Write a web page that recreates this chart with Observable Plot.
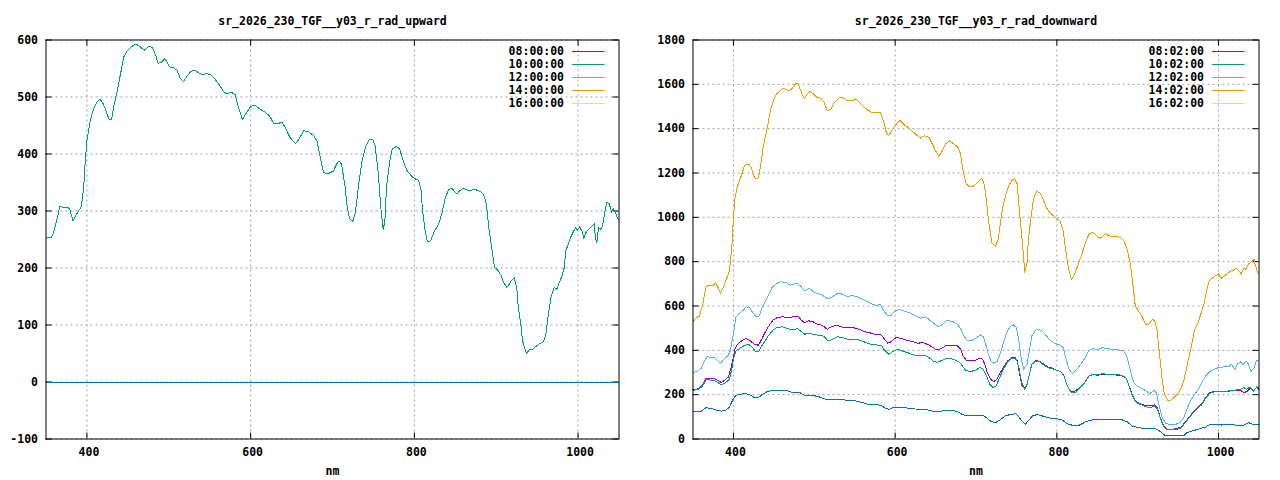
<!DOCTYPE html>
<html>
<head>
<meta charset="utf-8">
<script src="https://cdn.jsdelivr.net/npm/d3@7"></script>
<script src="https://cdn.jsdelivr.net/npm/@observablehq/plot@0.6"></script>
<style>
  html, body { margin: 0; padding: 0; background: #fff; }
  #wrap { display: flex; width: 1280px; height: 480px; }
  #wrap svg { display: block; }
</style>
</head>
<body>
<div id="wrap"></div>
<script>
// ---------- axis ticks ----------
const xTicks = [400, 600, 800, 1000];
const upYTicks = [-100, 0, 100, 200, 300, 400, 500, 600];
const downYTicks = [0, 200, 400, 600, 800, 1000, 1200, 1400, 1600, 1800];

// ---------- titles / legend labels ----------
const upTitle = "sr_2026_230_TGF__y03_r_rad_upward";
const downTitle = "sr_2026_230_TGF__y03_r_rad_downward";
const upNames = ["08:00:00", "10:00:00", "12:00:00", "14:00:00", "16:00:00"];
const downNames = ["08:02:00", "10:02:00", "12:02:00", "14:02:00", "16:02:00"];
const seriesColors = ["#9400d3", "#009e73", "#56b4e9", "#e69f00", "#f0e442"];
const extraColor = "#0072b2";

// ---------- upward panel series [nm, value] ----------
const up10 = [[350,251],[352,254],[356,253],[359,261],[363,283],[367,308],[372,306],[376,307],[379,303],[383,283],[388,296],[393,307],[396,341],[398,388],[400,423],[404,458],[408,479],[412,491],[416,496],[420,488],[424,473],[427,461],[430,460],[433,485],[437,511],[441,540],[445,570],[449,581],[454,588],[460,593],[466,587],[470,582],[476,589],[480,587],[484,573],[487,559],[491,561],[495,567],[498,561],[501,553],[506,551],[510,547],[514,533],[518,527],[522,536],[527,545],[532,547],[536,543],[541,539],[546,541],[551,539],[556,532],[562,521],[566,511],[570,506],[577,508],[581,504],[585,482],[590,460],[595,473],[600,483],[605,486],[611,479],[618,473],[623,467],[628,454],[633,453],[638,456],[642,447],[648,429],[655,418],[659,426],[665,441],[671,439],[677,432],[681,423],[685,394],[689,368],[694,365],[701,370],[705,382],[708,388],[711,382],[715,347],[718,306],[721,286],[725,282],[728,298],[732,347],[736,388],[741,415],[745,425],[749,426],[752,415],[756,365],[759,306],[762,267],[764,283],[766,342],[770,388],[773,409],[778,413],[782,409],[787,385],[791,371],[796,362],[800,357],[805,354],[808,339],[810,301],[813,266],[816,246],[820,248],[824,263],[830,278],[834,298],[838,324],[842,338],[846,340],[849,334],[852,330],[856,336],[860,340],[864,337],[868,336],[873,338],[878,336],[882,333],[885,327],[888,312],[891,271],[895,230],[898,201],[902,196],[906,187],[909,175],[913,166],[916,172],[919,179],[922,183],[925,166],[927,131],[930,102],[932,73],[935,58],[937,50],[940,56],[944,57],[948,62],[953,67],[958,71],[961,87],[964,122],[967,149],[971,166],[974,163],[977,175],[980,184],[983,200],[985,230],[988,242],[991,254],[994,263],[997,271],[999,266],[1002,272],[1005,264],[1007,251],[1009,261],[1013,268],[1018,275],[1020,278],[1021,254],[1023,245],[1025,271],[1028,268],[1030,274],[1033,301],[1035,315],[1038,313],[1041,298],[1043,304],[1046,296],[1048,288],[1050,284]];
const upExtra = [[350,0],[1050,0]];

// ---------- downward panel series [nm, value] ----------
const down08 = [[350,223],[356,226],[362,247],[366,274],[371,274],[376,272],[381,265],[385,254],[389,265],[394,280],[397,322],[400,367],[402,409],[405,427],[410,442],[416,454],[421,442],[426,427],[431,423],[435,450],[439,480],[443,506],[449,536],[454,548],[461,551],[468,548],[474,551],[481,551],[484,536],[488,524],[493,533],[498,530],[504,518],[510,513],[516,495],[521,506],[528,513],[533,506],[539,503],[547,503],[553,498],[558,491],[564,482],[568,480],[574,473],[582,473],[586,454],[591,432],[595,439],[601,458],[607,454],[613,447],[619,442],[628,432],[634,435],[640,427],[645,417],[650,405],[654,402],[660,415],[664,424],[671,424],[677,420],[681,405],[684,375],[688,355],[693,352],[699,355],[704,364],[708,360],[711,337],[714,299],[718,269],[722,259],[726,269],[730,299],[735,330],[739,352],[744,367],[748,370],[751,352],[754,292],[757,239],[760,229],[763,247],[766,292],[769,337],[774,355],[779,349],[784,337],[789,325],[795,319],[800,310],[805,304],[809,284],[813,239],[817,214],[823,217],[828,232],[834,254],[840,284],[845,292],[850,287],[856,292],[864,289],[873,289],[881,284],[886,274],[890,232],[894,194],[898,169],[903,160],[910,149],[916,149],[921,154],[924,141],[928,96],[932,59],[936,44],[943,44],[949,48],[954,54],[958,74],[963,96],[968,119],[973,138],[979,157],[984,187],[989,209],[994,214],[1000,214],[1008,214],[1016,217],[1023,220],[1027,220],[1031,209],[1035,214],[1039,229],[1043,217],[1047,232],[1050,224]];
const down10 = [[350,220],[356,223],[362,239],[366,268],[371,266],[377,262],[381,254],[385,244],[390,254],[395,269],[398,315],[400,360],[403,397],[409,412],[414,423],[419,427],[423,415],[427,397],[431,394],[435,420],[439,442],[443,465],[449,491],[454,503],[461,506],[467,498],[472,492],[479,498],[484,485],[488,473],[493,476],[499,473],[505,468],[512,464],[517,442],[523,450],[529,461],[535,458],[541,450],[547,450],[553,450],[559,442],[564,435],[570,427],[578,424],[583,423],[587,400],[592,382],[597,394],[603,405],[609,397],[615,390],[623,379],[630,375],[636,378],[642,367],[647,352],[652,345],[658,355],[664,364],[672,360],[679,348],[683,330],[687,310],[693,304],[699,310],[705,322],[709,315],[713,284],[717,247],[721,232],[725,239],[730,284],[735,322],[740,352],[745,364],[750,360],[753,322],[756,262],[760,224],[763,244],[766,292],[769,337],[774,352],[779,348],[784,334],[789,322],[796,315],[800,310],[805,304],[809,284],[813,239],[817,212],[823,209],[828,230],[834,252],[840,284],[845,292],[850,289],[856,294],[864,292],[873,292],[881,287],[886,274],[890,230],[894,190],[898,166],[903,156],[910,146],[916,141],[921,149],[924,138],[928,93],[932,55],[936,41],[943,41],[949,44],[954,51],[958,70],[963,93],[968,116],[973,135],[979,154],[984,184],[989,206],[994,212],[1000,214],[1008,216],[1016,217],[1023,222],[1027,224],[1031,232],[1035,224],[1039,235],[1043,214],[1047,235],[1050,229]];
const down12 = [[350,301],[355,304],[360,319],[364,352],[368,373],[372,367],[377,367],[381,352],[384,340],[388,360],[393,375],[396,397],[400,473],[403,548],[407,566],[412,581],[416,596],[420,593],[424,570],[428,552],[432,555],[436,596],[440,626],[444,653],[448,686],[454,703],[458,709],[465,706],[470,694],[474,698],[478,703],[483,691],[488,668],[494,680],[499,664],[504,656],[510,649],[517,631],[523,643],[529,658],[535,653],[540,644],[547,646],[553,643],[558,634],[564,623],[570,611],[576,604],[582,605],[586,578],[591,555],[595,558],[599,575],[605,585],[611,578],[617,570],[623,560],[631,545],[638,551],[644,533],[650,515],[654,506],[660,521],[664,536],[671,530],[677,518],[681,498],[685,465],[689,445],[695,445],[701,458],[706,470],[709,461],[712,427],[716,375],[719,349],[722,342],[726,349],[730,385],[734,435],[738,480],[742,506],[746,515],[750,503],[753,442],[756,360],[759,315],[763,337],[766,397],[769,465],[774,491],[778,495],[783,483],[788,461],[793,442],[798,430],[804,424],[808,412],[812,352],[815,315],[819,296],[823,307],[828,330],[834,360],[839,397],[844,408],[848,405],[852,405],[856,412],[860,409],[867,405],[873,405],[879,400],[883,397],[887,367],[891,307],[895,254],[899,239],[905,229],[910,217],[915,205],[920,220],[923,209],[926,157],[930,99],[935,69],[940,66],[947,66],[952,74],[956,89],[960,126],[964,164],[969,194],[975,224],[979,254],[984,284],[990,307],[995,315],[1000,322],[1004,322],[1008,330],[1012,325],[1016,337],[1020,315],[1024,340],[1027,349],[1030,334],[1034,352],[1037,337],[1040,304],[1044,322],[1047,355],[1050,352]];
const down14 = [[350,528],[353,545],[358,555],[362,608],[366,686],[370,694],[374,691],[378,704],[381,683],[384,658],[388,686],[392,728],[395,758],[398,864],[400,999],[402,1090],[405,1142],[409,1180],[412,1213],[414,1236],[419,1240],[422,1225],[425,1187],[428,1172],[431,1180],[434,1240],[437,1323],[442,1406],[446,1488],[450,1534],[454,1559],[457,1568],[461,1583],[465,1577],[469,1571],[473,1583],[477,1604],[480,1604],[484,1564],[488,1534],[491,1556],[495,1568],[499,1556],[503,1541],[508,1538],[512,1519],[516,1481],[521,1489],[525,1519],[531,1541],[536,1538],[541,1526],[547,1526],[551,1534],[556,1519],[561,1499],[566,1484],[572,1472],[578,1475],[582,1473],[586,1428],[589,1383],[592,1368],[597,1398],[603,1428],[606,1436],[611,1418],[617,1403],[623,1383],[631,1357],[636,1368],[642,1360],[646,1330],[650,1300],[654,1276],[658,1297],[662,1330],[667,1345],[672,1333],[678,1315],[681,1285],[684,1210],[688,1150],[692,1138],[697,1141],[701,1153],[705,1168],[707,1177],[710,1150],[713,1075],[715,999],[718,924],[720,882],[724,870],[727,894],[730,969],[733,1044],[737,1105],[741,1147],[745,1168],[748,1174],[751,1150],[753,1059],[756,939],[759,819],[760,751],[763,789],[765,909],[768,999],[771,1082],[775,1117],[779,1112],[783,1082],[787,1044],[791,1022],[796,1007],[800,995],[804,984],[808,939],[811,849],[815,759],[818,721],[821,736],[825,774],[831,834],[836,894],[840,924],[844,932],[847,927],[851,909],[854,906],[860,927],[864,917],[869,914],[875,914],[879,909],[883,894],[887,856],[891,789],[894,698],[897,600],[901,578],[906,548],[910,515],[914,518],[918,540],[921,533],[924,488],[927,382],[930,277],[933,202],[937,175],[941,175],[945,187],[949,202],[953,224],[957,262],[961,330],[966,412],[970,488],[974,518],[978,563],[982,608],[986,683],[989,716],[993,728],[998,740],[1000,746],[1003,725],[1007,736],[1011,746],[1015,758],[1018,761],[1021,770],[1025,761],[1028,743],[1031,770],[1034,766],[1037,789],[1041,800],[1044,811],[1045,792],[1048,751],[1050,746]];
const down16 = [];
const downExtra = [[350,122],[359,122],[366,141],[372,138],[378,131],[385,126],[391,131],[395,144],[399,175],[403,197],[409,202],[414,206],[420,199],[426,187],[431,187],[436,202],[442,214],[449,220],[455,221],[465,220],[471,212],[481,212],[488,197],[498,197],[506,190],[516,176],[525,179],[535,179],[541,172],[551,172],[560,164],[566,157],[578,154],[583,152],[588,138],[593,134],[599,144],[609,144],[619,137],[630,134],[640,131],[646,126],[654,123],[662,129],[671,129],[677,123],[683,111],[689,104],[699,104],[708,108],[713,96],[719,78],[724,74],[729,84],[736,104],[743,111],[749,114],[753,99],[757,81],[761,66],[765,84],[770,104],[776,111],[782,104],[789,96],[796,93],[804,89],[807,84],[813,69],[819,62],[828,63],[836,78],[846,89],[856,86],[869,89],[881,86],[887,78],[893,59],[901,51],[911,47],[922,47],[927,36],[934,15],[943,15],[957,15],[961,29],[967,36],[975,44],[984,54],[989,66],[996,66],[1004,63],[1012,66],[1023,62],[1031,62],[1037,74],[1042,66],[1050,63]];

// ---------- rendering ----------
const FONT = "'DejaVu Sans Mono', 'Liberation Mono', monospace";
const FS = 11.5;

function panel({title, yDomain, yTicks, marginLeft, series, names}) {
  const W = 640, H = 480, mT = 39.5, mB = 41.5, mR = 21.5;
  const pw = W - marginLeft - mR, ph = H - mT - mB;
  const grid = {stroke: "#a0a0a0", strokeOpacity: 1, strokeWidth: 1, strokeDasharray: "2,3"};
  const lines = series.filter(s => s.data.length).map(s =>
    Plot.line(s.data, {x: d => d[0], y: d => d[1], stroke: s.color, strokeWidth: 1, shapeRendering: "crispEdges"}));
  const svg = Plot.plot({
    width: W, height: H,
    marginLeft, marginRight: mR, marginTop: mT, marginBottom: mB,
    style: {fontFamily: FONT, fontSize: FS + "px", fontWeight: "bold", background: "#fff", color: "#000"},
    x: {domain: [350, 1050], label: null},
    y: {domain: yDomain, label: null},
    marks: [
      Plot.gridX(xTicks, grid),
      Plot.gridY(yTicks, grid),
      Plot.tickY(yTicks, {y: d => d, stroke: "#000", insetRight: pw - 6}),
      Plot.tickY(yTicks, {y: d => d, stroke: "#000", insetLeft: pw - 6}),
      Plot.tickX(xTicks, {x: d => d, stroke: "#000", insetTop: ph - 6}),
      Plot.tickX(xTicks, {x: d => d, stroke: "#000", insetBottom: ph - 6}),
      ...lines,
      Plot.frame({stroke: "#000", strokeWidth: 1}),
      Plot.axisY({ticks: yTicks, tickSize: 0, tickPadding: 8, tickFormat: d => String(d), label: null, fontWeight: "bold"}),
      Plot.axisX({ticks: xTicks, tickSize: 0, tickPadding: 9, dx: 2, tickFormat: d => String(d), label: null, fontWeight: "bold"}),
      Plot.text([title], {text: d => d, frameAnchor: "top", lineAnchor: "middle", dy: -18.5, fontWeight: "bold", fontSize: FS}),
      Plot.text(["nm"], {text: d => d, frameAnchor: "bottom", lineAnchor: "middle", dy: 32, fontWeight: "bold", fontSize: FS})
    ]
  });
  // gnuplot-style key inside the top-right corner
  const right = W - mR;
  const key = d3.select(svg).append("g").attr("font-family", FONT).attr("font-size", FS).attr("font-weight", "bold");
  names.forEach((n, i) => {
    const y = 50.7 + 13 * i;
    key.append("text").attr("x", right - 54.5).attr("y", y).attr("text-anchor", "end")
      .attr("dy", "0.35em").attr("fill", "#000").text(n);
    key.append("rect").attr("x", right - 46.5).attr("width", 32.5).attr("y", Math.round(y)).attr("height", 1)
      .attr("fill", seriesColors[i]).attr("stroke", "none");
  });
  return svg;
}

const wrap = document.getElementById("wrap");
wrap.appendChild(panel({
  title: upTitle, yDomain: [-100, 600], yTicks: upYTicks, marginLeft: 45.5, names: upNames,
  series: [
    {data: up10, color: seriesColors[1]},
    {data: upExtra, color: extraColor}
  ]
}));
wrap.appendChild(panel({
  title: downTitle, yDomain: [0, 1800], yTicks: downYTicks, marginLeft: 52.5, names: downNames,
  series: [
    {data: down08, color: seriesColors[0]},
    {data: down10, color: seriesColors[1]},
    {data: down12, color: seriesColors[2]},
    {data: down14, color: seriesColors[3]},
    {data: down16, color: seriesColors[4]},
    {data: downExtra, color: extraColor}
  ]
}));
</script>
</body>
</html>
